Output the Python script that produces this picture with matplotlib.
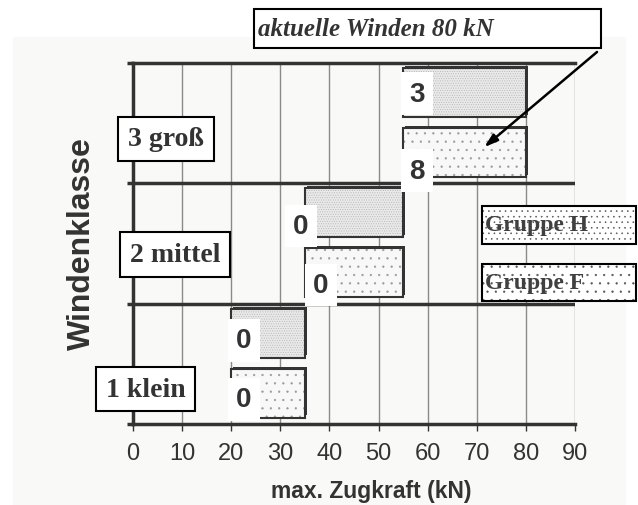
"""Windenklasse vs. max. Zugkraft - floating bars per group"""

import numpy as np
import matplotlib
matplotlib.use('Agg')
import matplotlib.pyplot as plt
from matplotlib.patches import Rectangle

# data
classes = ['1 klein', '2 mittel', '3 groß']
start_h = [20, 35, 55]      # Gruppe H (upper bar)
end_h = [35, 55, 80]
start_f = [20, 35, 55]      # Gruppe F (lower bar)
end_f = [35, 55, 80]
count_h = [0, 0, 3]
count_f = [0, 0, 8]
xticks = list(range(0, 100, 10))

# layout helpers (pixels of a 638x506 picture)
W, H = 638, 506
DARK = '#333333'
plt.rcParams['font.family'] = ['Liberation Sans', 'DejaVu Sans']
plt.rcParams['hatch.linewidth'] = 0.4


def fx(px):
    return px / W


def fy(py):
    return 1 - py / H


fig = plt.figure(figsize=(6.38, 5.06), dpi=100)
fig.patch.set_facecolor('white')
fig.patches.append(Rectangle((fx(13), fy(505)), fx(625 - 13), (505 - 38) / H,
                             transform=fig.transFigure, color='#f9f9f7', zorder=-1))

ax = fig.add_axes([fx(133), fy(425), fx(442), 361 / H])
ax.set_facecolor('none')
ax.set_xlim(0, 90)
ax.set_ylim(0, 3)

ax.set_xticks(xticks)
ax.grid(axis='x', color='#8a8a8a', lw=1, zorder=1)
ax.set_yticks([0, 1, 2, 3])
ax.set_yticklabels([])
ax.tick_params(axis='x', length=5, width=1, color=DARK, pad=8, labelsize=17, labelcolor=DARK)
ax.tick_params(axis='y', length=4, width=2.5, color=DARK)
for side in ['left', 'bottom', 'top']:
    ax.spines[side].set_linewidth(2.5)
    ax.spines[side].set_color(DARK)
ax.spines['right'].set_visible(False)
for yline in [1, 2]:
    ax.axhline(yline, color=DARK, lw=2.5, zorder=2)

ypos = np.arange(len(classes))
bh = 0.405
dx, dy = 0.35, 0.018
series = [
    (ypos + 0.755, np.array(start_h), np.array(end_h), count_h, '#e9e9e9', '#b4b4b4', '.......',
     [(2.6, -0.06), (-0.8, -0.11), (2.8, -0.01)]),
    (ypos + 0.256, np.array(start_f), np.array(end_f), count_f, '#f8f8f8', '#9a9a9a', '..',
     [(2.6, -0.05), (3.3, -0.10), (2.8, -0.15)]),
]
for yc, s, e, counts, face, hcol, hatch, nudge in series:
    ax.barh(yc + dy, e - s, left=s + dx, height=bh, color=DARK, zorder=3)
    ax.barh(yc, e - s, left=s, height=bh, color=face, edgecolor=hcol, lw=0, hatch=hatch, zorder=4)
    ax.barh(yc, e - s, left=s, height=bh, fill=False, edgecolor=DARK, lw=1.5, zorder=5)
    for i, c in enumerate(counts):
        ax.text(s[i] + nudge[i][0], yc[i] + nudge[i][1], str(c), ha='center', va='center',
                fontsize=20, fontweight='bold', color=DARK, zorder=6,
                bbox=dict(boxstyle='square,pad=0.3', fc='white', ec='none'))

# category labels in boxes
cat_pos = [(2.6, 0.29), (8.6, 1.41), (6.7, 2.37)]
for (cx, cy), name in zip(cat_pos, classes):
    ax.text(cx, cy, name, ha='center', va='center', fontsize=20, fontweight='bold',
            family=['Liberation Serif', 'DejaVu Serif'], color=DARK, zorder=7, clip_on=False,
            bbox=dict(boxstyle='square,pad=0.35', fc='white', ec='black', lw=1.5))

fig.text(fx(371), fy(492), 'max. Zugkraft (kN)', ha='center', va='center',
         fontsize=16.5, fontweight='bold', color=DARK)
fig.text(fx(82), fy(244), 'Windenklasse', rotation=90, ha='center', va='center',
         fontsize=23, fontweight='bold', color=DARK)

# annotation
fig.patches.append(Rectangle((fx(254), fy(49)), fx(601 - 254), 39 / H, transform=fig.transFigure,
                             fc='white', ec='black', lw=1.5, zorder=5))
fig.text(fx(258), fy(30), 'aktuelle Winden 80 kN', ha='left', va='center', fontsize=18,
         style='italic', fontweight='bold', family=['Liberation Serif', 'DejaVu Serif'],
         color=DARK, zorder=6)
ax.annotate('', xy=(71.5, 2.30), xycoords='data', xytext=(fx(597), fy(53)),
            textcoords='figure fraction', annotation_clip=False,
            arrowprops=dict(arrowstyle='-|>,head_length=0.8,head_width=0.25', color='black',
                            lw=1.8, shrinkA=0, shrinkB=0), zorder=8)

# legend boxes
for label, hatch, top, bot in [('Gruppe H', '...', 207, 245), ('Gruppe F', '..', 265, 302)]:
    rect = (fx(482), fy(bot)), fx(636 - 482), (bot - top) / H
    fig.patches.append(Rectangle(*rect, transform=fig.transFigure, fc='white', ec='#555555',
                                 lw=0, hatch=hatch, zorder=5))
    fig.patches.append(Rectangle(*rect, transform=fig.transFigure, fill=False, ec='black',
                                 lw=1.5, zorder=5))
    fig.text(fx(485), fy((top + bot) / 2), label, ha='left', va='center', fontsize=17,
             fontweight='bold', family=['Liberation Serif', 'DejaVu Serif'], color='#404040',
             zorder=6)

fig.savefig('out.png', dpi=100)
